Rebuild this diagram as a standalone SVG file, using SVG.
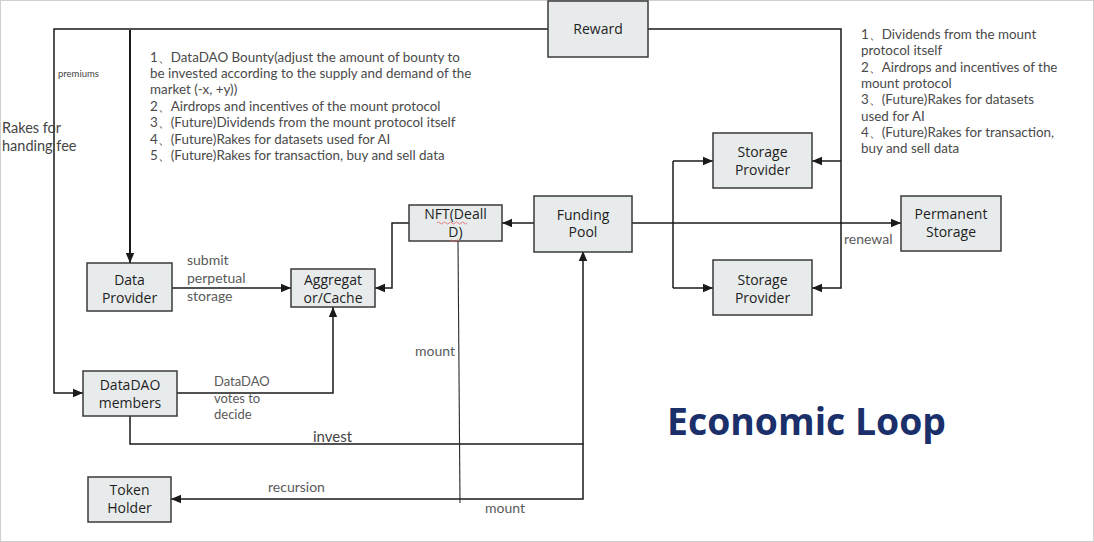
<svg xmlns="http://www.w3.org/2000/svg" width="1094" height="542" viewBox="0 0 1094 542">
<style>
.box{fill:#e8ebec;stroke:#3a3a3a;stroke-width:1.5}
.bt{font-family:"Open Sans","Noto Sans",sans-serif;font-size:14px;fill:#1e1e1e;text-anchor:middle}
.ln{fill:none;stroke:#1a1a1a;stroke-width:1.5}
.thin{fill:none;stroke:#2a2a2a;stroke-width:1.1}
.lbl{font-family:Lato,"Open Sans",sans-serif;font-size:14px;fill:#5a5a5a}
.note{font-family:Lato,"Open Sans",sans-serif;font-size:13.4px;fill:#4a4a4a}
</style>
<defs>
<marker id="ah" markerUnits="userSpaceOnUse" markerWidth="10" markerHeight="10" viewBox="0 0 10 10" refX="10" refY="5" orient="auto">
<path d="M0,0.8 L10,5 L0,9.2 Z" fill="#1a1a1a"/>
</marker>
</defs>
<rect x="0.5" y="0.5" width="1093" height="541" fill="#fff" stroke="#cfcfcf" stroke-width="1"/>

<g id="connectors">
<path class="ln" d="M548,29 H54 V393 H83" marker-end="url(#ah)"/>
<path class="ln" d="M130,30 V263" style="stroke-width:2" marker-end="url(#ah)"/>
<path class="ln" d="M648,29 H841 V288 H812" marker-end="url(#ah)"/>
<path class="ln" d="M841,161 H812" marker-end="url(#ah)"/>
<path class="ln" d="M632,223 H901" marker-end="url(#ah)"/>
<path class="ln" d="M673,161 V288"/>
<path class="ln" d="M673,161 H713" marker-end="url(#ah)"/>
<path class="ln" d="M673,288 H713" marker-end="url(#ah)"/>
<path class="ln" d="M534,223 H502" marker-end="url(#ah)"/>
<path class="ln" d="M409,223 H392 V288 H375" marker-end="url(#ah)"/>
<path class="ln" d="M172,288 H291" marker-end="url(#ah)"/>
<path class="ln" d="M177,393 H333 V307" marker-end="url(#ah)"/>
<path class="ln" d="M130,416 V444 H583 V251" marker-end="url(#ah)"/>
<path class="ln" d="M583,444 V499 H171" marker-end="url(#ah)"/>
<path class="thin" d="M458,241 L460,503"/>
</g>

<g id="reward"><rect class="box" x="548" y="1" width="100" height="56"/><text class="bt" x="598" y="34">Reward</text></g>
<g id="storage-provider-1"><rect class="box" x="713" y="133" width="99" height="55"/><text class="bt" x="762.5" y="157">Storage</text><text class="bt" x="762.5" y="175">Provider</text></g>
<g id="storage-provider-2"><rect class="box" x="713" y="260" width="99" height="55"/><text class="bt" x="762.5" y="285">Storage</text><text class="bt" x="762.5" y="303">Provider</text></g>
<g id="permanent-storage"><rect class="box" x="901" y="196" width="100" height="55"/><text class="bt" x="951" y="219">Permanent</text><text class="bt" x="951" y="237">Storage</text></g>
<g id="funding-pool"><rect class="box" x="534" y="196" width="98" height="56"/><text class="bt" x="583" y="220">Funding</text><text class="bt" x="583" y="237">Pool</text></g>
<g id="nft"><rect class="box" x="409" y="205" width="93" height="36"/><text class="bt" x="455.5" y="219">NFT(Deall</text><text class="bt" x="455.5" y="237">D)</text>
<path d="M437,223 q1.5,-2 3,0 t3,0 t3,0 t3,0 t3,0 t3,0 t3,0 t3,0 t3,0 t3,0" fill="none" stroke="#e06666" stroke-width="0.8"/>
<path d="M450,241 q1.5,-2 3,0 t3,0 t3,0" fill="none" stroke="#e06666" stroke-width="0.8"/></g>
<g id="data-provider"><rect class="box" x="87" y="263" width="85" height="48"/><text class="bt" x="129.5" y="285">Data</text><text class="bt" x="129.5" y="303">Provider</text></g>
<g id="aggregator"><rect class="box" x="291" y="269" width="84" height="38"/><text class="bt" x="333" y="285">Aggregat</text><text class="bt" x="333" y="303">or/Cache</text></g>
<g id="datadao-members"><rect class="box" x="83" y="371" width="94" height="45"/><text class="bt" x="130" y="390">DataDAO</text><text class="bt" x="130" y="408">members</text></g>
<g id="token-holder"><rect class="box" x="88" y="477" width="83" height="45"/><text class="bt" x="129.5" y="495">Token</text><text class="bt" x="129.5" y="513">Holder</text></g>

<g id="labels">
<text class="lbl" x="58" y="77" style="font-size:9.5px;fill:#444">premiums</text>
<text class="lbl" x="2" y="133" style="font-size:14.5px;fill:#444">Rakes for</text>
<text class="lbl" x="2" y="151" style="font-size:14.5px;fill:#444">handing fee</text>
<text class="note" x="150" y="62">1、DataDAO Bounty(adjust the amount of bounty to</text>
<text class="note" x="150" y="78">be invested according to the supply and demand of the</text>
<text class="note" x="150" y="94">market (-x, +y))</text>
<text class="note" x="150" y="111">2、Airdrops and incentives of the mount protocol</text>
<text class="note" x="150" y="127">3、(Future)Dividends from the mount protocol itself</text>
<text class="note" x="150" y="144">4、(Future)Rakes for datasets used for AI</text>
<text class="note" x="150" y="160">5、(Future)Rakes for transaction, buy and sell data</text>
<text class="note" x="861" y="39">1、Dividends from the mount</text>
<text class="note" x="861" y="55">protocol itself</text>
<text class="note" x="861" y="72">2、Airdrops and incentives of the</text>
<text class="note" x="861" y="88">mount protocol</text>
<text class="note" x="861" y="104">3、(Future)Rakes for datasets</text>
<text class="note" x="861" y="121">used for AI</text>
<text class="note" x="861" y="137">4、(Future)Rakes for transaction,</text>
<text class="note" x="861" y="153">buy and sell data</text>
<text class="lbl" x="187" y="265">submit</text>
<text class="lbl" x="187" y="283">perpetual</text>
<text class="lbl" x="187" y="301">storage</text>
<text class="lbl" x="214" y="386" style="font-size:13px">DataDAO</text>
<text class="lbl" x="214" y="403" style="font-size:13px">votes to</text>
<text class="lbl" x="214" y="419" style="font-size:13px">decide</text>
<text class="lbl" x="415" y="356">mount</text>
<text class="lbl" x="844" y="244">renewal</text>
<text class="lbl" x="313" y="442" style="font-size:15px;fill:#444">invest</text>
<text class="lbl" x="268" y="492">recursion</text>
<text class="lbl" x="485" y="513">mount</text>
<text x="667" y="435" font-family="'Open Sans','Noto Sans',sans-serif" font-weight="700" font-size="37" fill="#1b2f6b" textLength="279" lengthAdjust="spacingAndGlyphs">Economic Loop</text>
</g>
</svg>
